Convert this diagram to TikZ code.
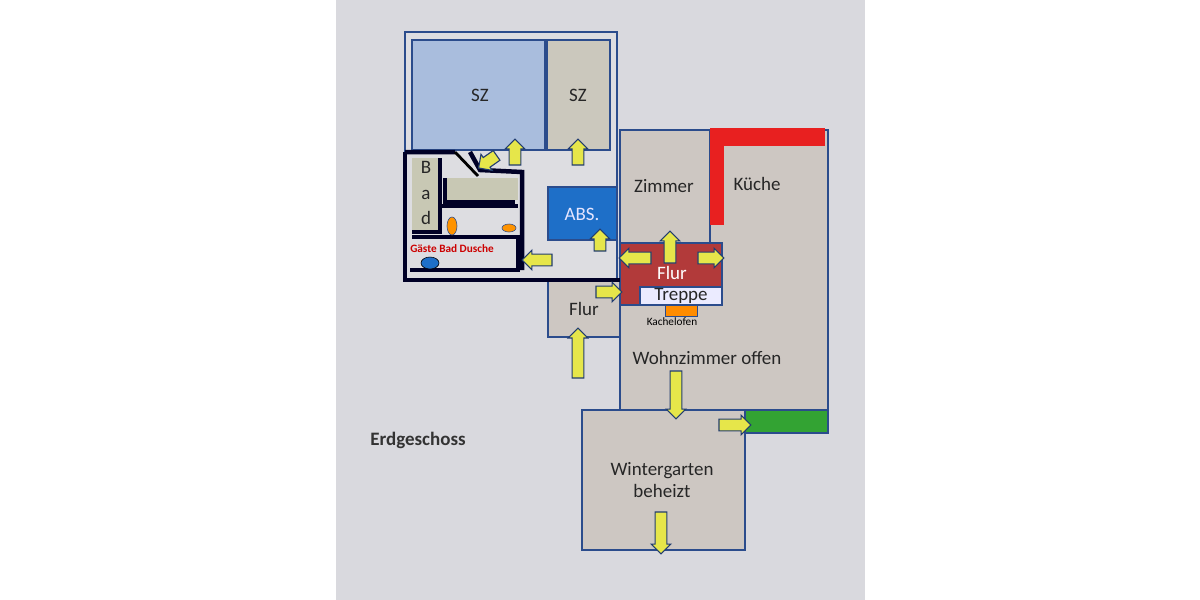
\documentclass[tikz,border=0pt]{standalone}
\usepackage{fontspec}
\setmainfont{Carlito}
\usetikzlibrary{shapes.arrows}
\definecolor{page}{HTML}{D9D9DE}
\definecolor{wall}{HTML}{2B4C8C}
\definecolor{room}{HTML}{CDC7C2}
\definecolor{szblue}{HTML}{A9BDDD}
\definecolor{szgrey}{HTML}{CBC8BD}
\definecolor{abs}{HTML}{1E6FC8}
\definecolor{flurred}{HTML}{B23A3A}
\definecolor{kred}{HTML}{E82020}
\definecolor{arrowy}{HTML}{E6E64A}
\definecolor{bathg}{HTML}{C8C8B4}
\tikzset{
  rm/.style={draw=wall,line width=1.3pt},
  bw/.style={draw=black!85!blue,line width=3.2pt},
  ya/.style={single arrow,draw=wall!80!black,fill=arrowy,line width=0.8pt,
    inner xsep=0pt, inner ysep=3.8pt, text width=0pt, text height=0pt, text depth=0pt,
    single arrow head extend=2.8pt, single arrow head indent=0pt,
    minimum height=#1*0.71pt},
  ya/.default=26,
  lab/.style={font=\fontsize{13.5}{16}\selectfont, text=black!85},
}
\begin{document}
\begin{tikzpicture}[x=0.25mm,y=-0.25mm]
\useasboundingbox (0,0) rectangle (1200,600);
\fill[white] (0,0) rectangle (1200,600);
\fill[page] (336,0) rectangle (865,600);
% top block floor
\filldraw[rm,fill=page!90!white] (405,32) rectangle (617,280);
\fill[szblue,rm] (412,40) rectangle (545,150);
\fill[szgrey,rm] (547,40) rectangle (610,150);
\node[lab] (sz1) at (480,95) {SZ};
\node[lab] (sz2) at (578,95) {SZ};
% big living area
\filldraw[rm,fill=room] (620,130) -- (828,130) -- (828,410) -- (620,410) -- cycle;
\draw[rm] (710,130) -- (710,245);
\fill[kred] (710,128) rectangle (825,146);
\fill[kred] (710,146) rectangle (724,225);
\node[lab] (zim) at (664,186) {Zimmer};
\node[lab] (ku) at (757,184) {Küche};
\node[lab] (wz) at (707,358) {Wohnzimmer offen};
% Flur red
\filldraw[rm,fill=flurred] (620,243) rectangle (722,305);
\filldraw[draw=wall,line width=0.8pt,fill=white!92!blue] (640,287) rectangle (722,305);
\node[font=\fontsize{13.5}{16}\selectfont,text=white] (fl1) at (672,273) {Flur};
\node[lab] (tr) at (681,296) {Treppe};
\filldraw[draw=wall,line width=0.6pt,fill=orange!90!yellow] (665,305) rectangle (697,316);
\node[font=\fontsize{8}{9}\selectfont] (ko) at (672,322) {Kachelofen};
% small Flur
\filldraw[rm,fill=room] (548,280) rectangle (620,337);
\node[lab] (fl2) at (584,309) {Flur};
% ABS
\filldraw[draw=wall,line width=1pt,fill=abs] (548,187) rectangle (617,240);
\node[font=\fontsize{13.5}{16}\selectfont,text=white!90!blue] (abs) at (582,214) {ABS.};
% green
\filldraw[rm,fill=green!55!black!80] (745,410) rectangle (828,433);
% Wintergarten
\filldraw[rm,fill=room] (582,410) rectangle (745,550);
\node[lab,align=center] (wg) at (662,480) {Wintergarten\\beheizt};
% bathroom block
\fill[page!90!white] (405,152) rectangle (527,280);
\fill[bathg] (412,158) rectangle (440,230);
\fill[bathg] (447,178) rectangle (518,200);
\draw[bw] (405,152) -- (455,152) (470,152) -- (480,170) -- (522,172) -- (522,270);
\draw[bw] (405,152) -- (405,280) -- (620,280);
\draw[bw] (440,158) -- (440,232) -- (412,232) ;
\draw[black,line width=2pt] (455,152) -- (478,176);
\draw[bw] (445,178) -- (445,202) -- (515,202);
\draw[bw] (440,206) -- (518,206);
\draw[bw] (412,237) -- (518,237) -- (518,270) -- (410,270);
\filldraw[draw=wall,fill=orange!85!yellow] (452,226) ellipse (5 and 9);
\filldraw[draw=wall,fill=orange!85!yellow] (509,228) ellipse (7 and 4);
\filldraw[draw=black,fill=abs] (430,263) ellipse (9 and 6);
\node[font=\fontsize{8}{9}\selectfont\bfseries,text=red!80!black] (gb) at (452,249) {Gäste Bad Dusche};
\node[lab,align=center] (bad) at (426,193) {B\\[2pt]a\\[2pt]d};
% arrows
\node[ya=26] (a1) at (515,155) [rotate=90] {};
\node[ya=26] (a2) at (578,155) [rotate=90] {};
\node[ya=22] (a3) at (490,160) [rotate=215] {};
\node[ya=22] (a4) at (600,243) [rotate=90] {};
\node[ya=30] (a5) at (540,260) [rotate=180] {};
\node[ya=32] (a6) at (670,250) [rotate=90] {};
\node[ya=32] (a7) at (638,258) [rotate=180] {};
\node[ya=26] (a8) at (708,258) {};
\node[ya=26] (a9) at (606,292) {};
\node[ya=50] (a10) at (578,356) [rotate=90] {};
\node[ya=48] (a11) at (676,392) [rotate=-90] {};
\node[ya=32] (a12) at (732,425) {};
\node[ya=42] (a13) at (661,530) [rotate=-90] {};
\node[font=\fontsize{13.5}{16}\selectfont\bfseries,text=black!80] (eg) at (418,440) {Erdgeschoss};
\end{tikzpicture}
\end{document}
